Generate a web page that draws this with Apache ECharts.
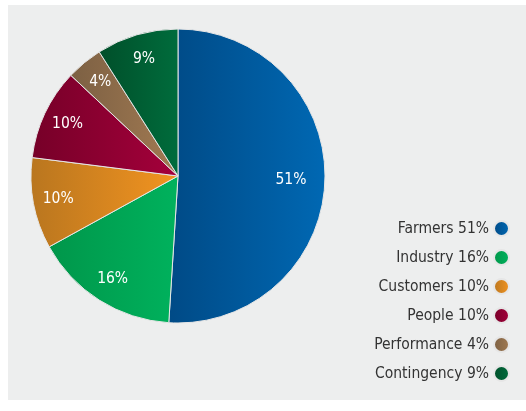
<!DOCTYPE html>
<html>
<head>
<meta charset="utf-8">
<script src="https://cdn.jsdelivr.net/npm/echarts@6/dist/echarts.min.js"></script>
<style>
html,body{margin:0;padding:0;background:#ffffff;}
#chart{width:526px;height:411px;}
</style>
</head>
<body>
<div id="chart"></div>
<script>
var categories = ['Farmers', 'Industry', 'Customers', 'People', 'Performance', 'Contingency'];
var values = [51, 16, 10, 10, 4, 9];
var colorsLeft = ['#004a86', '#00964a', '#b9761f', '#760028', '#7c6043', '#004f2a'];
var colorsRight = ['#0068b3', '#00b25d', '#f39420', '#a5003b', '#a27a52', '#006c3c'];

var FONT = "'Liberation Sans Narrow', 'Arial Narrow', 'DejaVu Sans Condensed', sans-serif";

function grad(i) {
  return new echarts.graphic.LinearGradient(0, 0, 1, 0, [
    {offset: 0, color: colorsLeft[i]},
    {offset: 1, color: colorsRight[i]}
  ]);
}

var pieData = categories.map(function (c, i) {
  return {name: c, value: values[i], itemStyle: {color: grad(i)}};
});
var labelData = categories.map(function (c, i) {
  var d = {name: c, value: values[i]};
  if (i === 0) d.label = {offset: [-9, 0]};
  return d;
});

var chart = echarts.init(document.getElementById('chart'), null, {renderer: 'canvas'});
chart.setOption({
  animation: false,
  backgroundColor: '#ffffff',
  graphic: [{
    type: 'rect', z: -10, silent: true,
    shape: {x: 8, y: 5, width: 518, height: 395},
    style: {fill: '#edeeee'}
  }],
  legend: {
    orient: 'vertical',
    right: 11,
    top: 215,
    align: 'right',
    icon: 'circle',
    itemWidth: 15,
    itemHeight: 15,
    itemGap: 12,
    data: categories,
    selectedMode: false,
    textStyle: {fontFamily: FONT, fontSize: 15.5, color: '#333333', padding: [0, 0, 0, 0]},
    formatter: function (name) {
      var i = categories.indexOf(name);
      return name + ' ' + values[i] + '%';
    }
  },
  series: [{
    type: 'pie',
    center: [178, 176],
    radius: [0, 147],
    startAngle: 90,
    clockwise: true,
    silent: true,
    label: {show: false},
    labelLine: {show: false},
    itemStyle: {borderColor: '#e6e6e6', borderWidth: 1},
    data: pieData
  }, {
    type: 'pie',
    center: [178, 176],
    radius: [91, 147],
    startAngle: 90,
    clockwise: true,
    silent: true,
    legendHoverLink: false,
    itemStyle: {color: 'rgba(0,0,0,0)', borderWidth: 0},
    label: {
      show: true,
      position: 'inside',
      formatter: '{c}%',
      color: '#ffffff',
      fontFamily: FONT,
      fontSize: 15.5
    },
    labelLine: {show: false},
    data: labelData
  }]
});
</script>
</body>
</html>
